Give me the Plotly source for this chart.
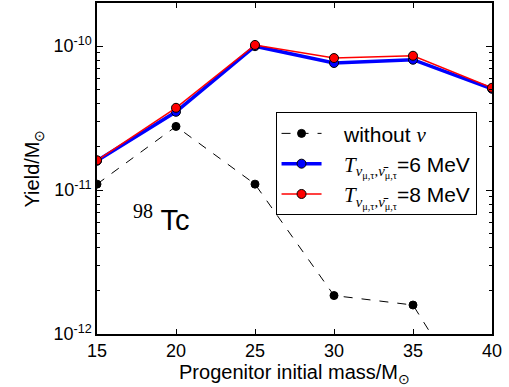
import plotly.graph_objects as go

masses = [15, 20, 25, 30, 35, 40]
without_nu = [1.10e-11, 2.77e-11, 1.10e-11, 1.85e-12, 1.59e-12, 2.1e-13]
t6 = [1.60e-11, 3.50e-11, 1.00e-10, 7.64e-11, 8.05e-11, 5.06e-11]
t8 = [1.61e-11, 3.73e-11, 1.02e-10, 8.27e-11, 8.58e-11, 5.14e-11]
ytick_vals = [1e-12, 1e-11, 1e-10]
ytick_text = ["10<sup>-12</sup>", "10<sup>-11</sup>", "10<sup>-10</sup>"]

FONT = "Liberation Sans, Arial, sans-serif"
SERIF = "Liberation Serif"
sub = ("<span style='font-family:" + SERIF + "'><i>T</i><sub><i>ν</i><sub>μ,τ</sub>,"
       "<i>ν̄</i><sub>μ,τ</sub></sub></span>")

fig = go.Figure()
fig.add_trace(go.Scatter(
    x=masses, y=without_nu, mode="lines+markers",
    name="   without <span style='font-family:" + SERIF + "'><i>ν</i></span>",
    line=dict(color="black", width=1, dash="dash"),
    marker=dict(color="black", size=8, line=dict(color="black", width=1)),
))
fig.add_trace(go.Scatter(
    x=masses, y=t6, mode="lines+markers", name="   " + sub + "=6 MeV",
    line=dict(color="#0000ff", width=3.5),
    marker=dict(color="#0000ff", size=9, line=dict(color="black", width=1)),
))
fig.add_trace(go.Scatter(
    x=masses, y=t8, mode="lines+markers", name="   " + sub + "=8 MeV",
    line=dict(color="#ff0000", width=1.5),
    marker=dict(color="#ff0000", size=9, line=dict(color="black", width=1)),
))

minor_vals = []
for d in [1e-12, 1e-11, 1e-10]:
    for k in range(2, 10):
        minor_vals.append(k * d)

fig.update_layout(
    width=509, height=387,
    margin=dict(l=97, r=17, t=1, b=53),
    paper_bgcolor="white", plot_bgcolor="white",
    font=dict(family=FONT, size=17, color="black"),
    showlegend=True,
    legend=dict(x=0.452, y=0.67, xanchor="left", yanchor="top",
                bgcolor="white", bordercolor="black", borderwidth=1,
                font=dict(size=21), itemwidth=40, tracegroupgap=2),
    annotations=[dict(x=0.085, y=0.29, xref="paper", yref="paper",
                      text="<sup><span style='font-family:" + SERIF + ";font-size:20px'>98</span></sup> Tc",
                      showarrow=False, font=dict(size=29), xanchor="left")],
)
fig.update_xaxes(
    range=[15, 40], tickvals=[15, 20, 25, 30, 35, 40],
    ticks="inside", ticklen=5, tickcolor="black", mirror="ticks",
    showline=True, linecolor="black", linewidth=1.5, showgrid=False, zeroline=False,
    title=dict(text="Progenitor initial mass/M<sub>⊙</sub>", standoff=2),
    tickfont=dict(size=18),
)
fig.update_yaxes(
    type="log", range=[-12, -9.7], tickvals=ytick_vals, ticktext=ytick_text,
    ticks="inside", ticklen=6, tickcolor="black", mirror="ticks",
    showline=True, linecolor="black", linewidth=1.5, showgrid=False, zeroline=False,
    minor=dict(tickvals=minor_vals, ticks="inside", ticklen=3, tickcolor="black", showgrid=False),
    title=dict(text="Yield/M<sub>⊙</sub>", standoff=8),
    tickfont=dict(size=18),
)

fig.write_html("out.html", config={"displayModeBar": False},
               post_script="document.body.style.margin='0';document.body.style.overflow='hidden';")
